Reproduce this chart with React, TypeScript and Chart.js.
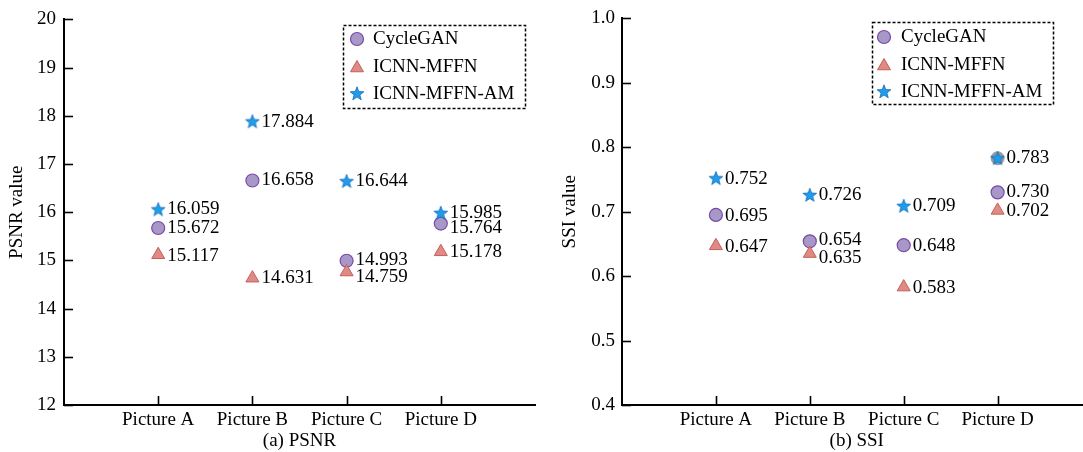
import React, { useEffect, useRef } from 'react';
import { Chart, registerables } from 'chart.js';

Chart.register(...registerables);

// ---------- data ----------
const categories = ['Picture A', 'Picture B', 'Picture C', 'Picture D'];
const seriesNames = ['CycleGAN', 'ICNN-MFFN', 'ICNN-MFFN-AM'];

const psnrCycleGAN = [15.672, 16.658, 14.993, 15.764];
const psnrMFFN = [15.117, 14.631, 14.759, 15.178];
const psnrMFFNAM = [16.059, 17.884, 16.644, 15.985];

const ssiCycleGAN = [0.695, 0.654, 0.648, 0.73];
const ssiMFFN = [0.647, 0.635, 0.583, 0.702];
const ssiMFFNAM = [0.752, 0.726, 0.709, 0.783];
const ssiGreyMark = [null, null, null, 0.783];

const psnrTicks = [12, 13, 14, 15, 16, 17, 18, 19, 20];
const ssiTicks = [0.4, 0.5, 0.6, 0.7, 0.8, 0.9, 1.0];

// small vertical nudges of the value labels (px), per series
const psnrLabelDy = [
  [0, 0, -1, 4],
  [1, 0, 5, 0],
  [0, 1, 0, 0],
];
const ssiLabelDy = [
  [1, -1, 1, 0],
  [1, 4, 1, 1],
  [1, 0, 0, 0],
];

// ---------- styles ----------
const FONT = "'Liberation Serif', 'Times New Roman', serif";
const FS = 19;
const COL = {
  circleFill: '#a898c8',
  circleStroke: '#7a4aa8',
  triFill: '#df8a84',
  triStroke: '#c45f59',
  starFill: '#1e9ee9',
  starStroke: '#1569bd',
  grey: '#9b9b9b',
};

function starPath(ctx: CanvasRenderingContext2D, cx: number, cy: number, R: number, r: number) {
  ctx.beginPath();
  for (let i = 0; i < 10; i++) {
    const rad = (Math.PI / 5) * i - Math.PI / 2;
    const rr = i % 2 === 0 ? R : r;
    const px = cx + Math.cos(rad) * rr;
    const py = cy + Math.sin(rad) * rr;
    if (i === 0) ctx.moveTo(px, py);
    else ctx.lineTo(px, py);
  }
  ctx.closePath();
}

function makeStar(): HTMLCanvasElement {
  const c = document.createElement('canvas');
  c.width = 16;
  c.height = 16;
  const ctx = c.getContext('2d')!;
  starPath(ctx, 8, 8.5, 7.2, 3.0);
  ctx.fillStyle = COL.starFill;
  ctx.fill();
  ctx.strokeStyle = COL.starStroke;
  ctx.lineWidth = 0.8;
  ctx.stroke();
  return c;
}

const inwardTicks = {
  id: 'inwardTicks',
  afterDraw(chart: any) {
    const { ctx, chartArea, scales } = chart;
    ctx.save();
    ctx.strokeStyle = '#000';
    ctx.lineWidth = 1.6;
    scales.y.ticks.forEach((t: any) => {
      const py = Math.round(scales.y.getPixelForValue(t.value)) + 0.5;
      ctx.beginPath();
      ctx.moveTo(chartArea.left, py);
      ctx.lineTo(chartArea.left + 9, py);
      ctx.stroke();
    });
    scales.x.ticks.forEach((t: any) => {
      const px = Math.round(scales.x.getPixelForValue(t.value)) + 0.5;
      ctx.beginPath();
      ctx.moveTo(px, chartArea.bottom);
      ctx.lineTo(px, chartArea.bottom - 9);
      ctx.stroke();
    });
    ctx.restore();
  },
};

const valueLabels = {
  id: 'valueLabels',
  afterDatasetsDraw(chart: any, _args: any, opts: any) {
    const { ctx } = chart;
    ctx.save();
    ctx.font = `${FS}px ${FONT}`;
    ctx.fillStyle = '#000';
    ctx.textAlign = 'left';
    ctx.textBaseline = 'middle';
    for (let d = 0; d < 3; d++) {
      const meta = chart.getDatasetMeta(d);
      const ds = chart.data.datasets[d];
      meta.data.forEach((el: any, i: number) => {
        const v = ds.data[i].y;
        const dy = (opts.dy && opts.dy[d] && opts.dy[d][i]) || 0;
        ctx.fillText(v.toFixed(3), el.x + 9, el.y + dy);
      });
    }
    ctx.restore();
  },
};

const boxLegend = {
  id: 'boxLegend',
  afterDraw(chart: any, _args: any, o: any) {
    const { ctx } = chart;
    ctx.save();
    ctx.strokeStyle = '#000';
    ctx.lineWidth = 1.5;
    ctx.setLineDash([3, 2]);
    ctx.strokeRect(o.x + 0.5, o.y + 0.5, o.w, o.h);
    ctx.setLineDash([]);
    const rows = o.rows;
    // circle
    ctx.beginPath();
    ctx.arc(o.mx, rows[0], 6.5, 0, Math.PI * 2);
    ctx.fillStyle = COL.circleFill;
    ctx.fill();
    ctx.lineWidth = 1.2;
    ctx.strokeStyle = COL.circleStroke;
    ctx.stroke();
    // triangle
    const r = 7.5;
    ctx.beginPath();
    for (let k = 0; k < 3; k++) {
      const a = (Math.PI * 2 * k) / 3;
      const px = o.mx + Math.sin(a) * r;
      const py = rows[1] + 1 - Math.cos(a) * r;
      if (k === 0) ctx.moveTo(px, py);
      else ctx.lineTo(px, py);
    }
    ctx.closePath();
    ctx.fillStyle = COL.triFill;
    ctx.fill();
    ctx.lineWidth = 1;
    ctx.strokeStyle = COL.triStroke;
    ctx.stroke();
    // star
    starPath(ctx, o.mx, rows[2], 7.2, 3.0);
    ctx.fillStyle = COL.starFill;
    ctx.fill();
    ctx.lineWidth = 0.8;
    ctx.strokeStyle = COL.starStroke;
    ctx.stroke();
    // texts
    ctx.font = `${FS}px ${FONT}`;
    ctx.fillStyle = '#000';
    ctx.textAlign = 'left';
    ctx.textBaseline = 'middle';
    seriesNames.forEach((n, k) => ctx.fillText(n, o.tx, rows[k]));
    ctx.restore();
  },
};

interface PanelCfg {
  series: number[][];
  grey?: (number | null)[];
  yTicks: number[];
  yDecimals: number;
  yTitle: string;
  xTitle: string;
  dy: number[][];
  yWidth: number;
  yTitlePad: number;
  yTickPad: number;
  padRight: number;
  legend: any;
}

function buildChart(canvas: HTMLCanvasElement, cfg: PanelCfg) {
  const star = makeStar();
  const toPts = (arr: (number | null)[]) =>
    arr.map((v, i) => ({ x: i, y: v })).filter((p) => p.y !== null);
  const datasets: any[] = [
    {
      label: seriesNames[0],
      data: toPts(cfg.series[0]),
      pointStyle: 'circle',
      pointRadius: 6.5,
      pointHoverRadius: 6.5,
      backgroundColor: COL.circleFill,
      borderColor: COL.circleStroke,
      borderWidth: 1.2,
      order: 4,
    },
    {
      label: seriesNames[1],
      data: toPts(cfg.series[1]),
      pointStyle: 'triangle',
      pointRadius: 7.5,
      pointHoverRadius: 7.5,
      backgroundColor: COL.triFill,
      borderColor: COL.triStroke,
      borderWidth: 1,
      order: 3,
    },
    {
      label: seriesNames[2],
      data: toPts(cfg.series[2]),
      pointStyle: star,
      pointRadius: 7,
      backgroundColor: COL.starFill,
      borderColor: COL.starStroke,
      order: 1,
    },
  ];
  if (cfg.grey) {
    datasets.push({
      label: 'mark',
      data: toPts(cfg.grey),
      pointStyle: 'circle',
      pointRadius: 6.5,
      backgroundColor: COL.grey,
      borderColor: COL.grey,
      borderWidth: 1,
      order: 2,
    });
  }
  return new Chart(canvas, {
    type: 'scatter',
    data: { datasets },
    plugins: [inwardTicks, valueLabels, boxLegend],
    options: {
      animation: false,
      responsive: false,
      maintainAspectRatio: false,
      events: [],
      layout: { padding: { left: 0, right: cfg.padRight, top: 18, bottom: 0 } },
      plugins: {
        legend: { display: false },
        tooltip: { enabled: false },
        valueLabels: { dy: cfg.dy },
        boxLegend: cfg.legend,
      } as any,
      scales: {
        x: {
          type: 'linear',
          min: -1,
          max: 4,
          afterBuildTicks: (s: any) => {
            s.ticks = categories.map((_, i) => ({ value: i }));
          },
          afterFit: (s: any) => {
            s.height = 47;
          },
          ticks: {
            color: '#000',
            font: { family: FONT, size: FS },
            padding: 4,
            maxRotation: 0,
            autoSkip: false,
            callback: (v: any) => categories[v] ?? '',
          },
          grid: { display: false, drawTicks: false },
          border: { display: true, color: '#000', width: 2 },
          title: {
            display: true,
            text: cfg.xTitle,
            color: '#000',
            font: { family: FONT, size: FS },
            padding: { top: 4.5, bottom: 0 },
          },
        },
        y: {
          type: 'linear',
          min: cfg.yTicks[0],
          max: cfg.yTicks[cfg.yTicks.length - 1],
          afterBuildTicks: (s: any) => {
            s.ticks = cfg.yTicks.map((v) => ({ value: v }));
          },
          afterFit: (s: any) => {
            s.width = cfg.yWidth;
          },
          ticks: {
            color: '#000',
            font: { family: FONT, size: FS },
            padding: cfg.yTickPad,
            callback: (v: any) => Number(v).toFixed(cfg.yDecimals),
          },
          grid: { display: false, drawTicks: false },
          border: { display: true, color: '#000', width: 2 },
          title: {
            display: true,
            text: cfg.yTitle,
            color: '#000',
            font: { family: FONT, size: FS },
            padding: { top: cfg.yTitlePad, bottom: 0 },
          },
        },
      },
    } as any,
  });
}

function Panel({ cfg, left, width }: { cfg: PanelCfg; left: number; width: number }) {
  const ref = useRef<HTMLCanvasElement | null>(null);
  useEffect(() => {
    if (!ref.current) return;
    const ch = buildChart(ref.current, cfg);
    return () => ch.destroy();
  }, []);
  return (
    <div style={{ position: 'absolute', left, top: 0, width, height: 452 }}>
      <canvas ref={ref} width={width} height={452} style={{ width, height: 452, display: 'block' }} />
    </div>
  );
}

const psnrCfg: PanelCfg = {
  series: [psnrCycleGAN, psnrMFFN, psnrMFFNAM],
  yTicks: psnrTicks,
  yDecimals: 0,
  yTitle: 'PSNR value',
  xTitle: '(a) PSNR',
  dy: psnrLabelDy,
  yWidth: 64,
  yTitlePad: 6,
  yTickPad: 8,
  padRight: 10,
  legend: { x: 343, y: 25, w: 182, h: 83, mx: 357, tx: 373, rows: [39, 67, 94] },
};

const ssiCfg: PanelCfg = {
  series: [ssiCycleGAN, ssiMFFN, ssiMFFNAM],
  grey: ssiGreyMark,
  yTicks: ssiTicks,
  yDecimals: 1,
  yTitle: 'SSI value',
  xTitle: '(b) SSI',
  dy: ssiLabelDy,
  yWidth: 77,
  yTitlePad: 13.6,
  yTickPad: 7,
  padRight: 8,
  legend: { x: 327, y: 22, w: 181, h: 82, mx: 339, tx: 356, rows: [37, 65, 92] },
};

export default function App() {
  return (
    <div
      style={{
        position: 'absolute',
        left: 0,
        top: 0,
        width: 1083,
        height: 452,
        overflow: 'hidden',
        background: '#fff',
      }}
    >
      <Panel cfg={psnrCfg} left={0} width={545} />
      <Panel cfg={ssiCfg} left={545} width={555} />
    </div>
  );
}
